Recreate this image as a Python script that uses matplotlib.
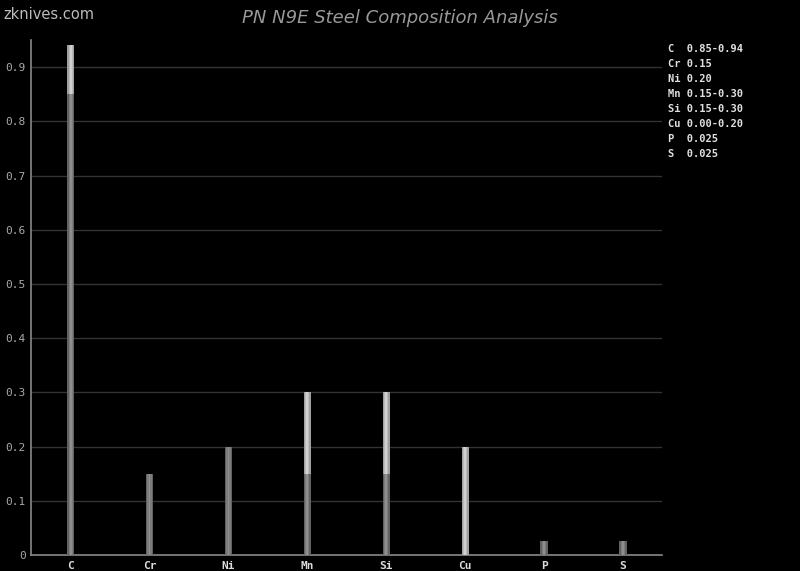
import numpy as np
import matplotlib
matplotlib.use("Agg")
import matplotlib.pyplot as plt

# composition ranges (min, max) in percent
elements = ["C", "Cr", "Ni", "Mn", "Si", "Cu", "P", "S"]
min_vals = [0.85, 0.15, 0.20, 0.15, 0.15, 0.00, 0.025, 0.025]
max_vals = [0.94, 0.15, 0.20, 0.30, 0.30, 0.20, 0.025, 0.025]
legend_lines = ["C  0.85-0.94", "Cr 0.15", "Ni 0.20", "Mn 0.15-0.30",
                "Si 0.15-0.30", "Cu 0.00-0.20", "P  0.025", "S  0.025"]
y_ticks = [0, 0.1, 0.2, 0.3, 0.4, 0.5, 0.6, 0.7, 0.8, 0.9]

mono = "DejaVu Sans Mono"
fig = plt.figure(figsize=(8, 5.71), dpi=100, facecolor="black")
ax = fig.add_axes([0.039, 0.028, 0.789, 0.902], facecolor="black")

x = np.arange(len(elements))
lo = np.array(min_vals)
hi = np.array(max_vals) - lo

# fake cylinder shading with nested bars
w = 0.09
for frac, dark, light in [(1.0, "#626262", "#a0a0a0"),
                          (0.6, "#7c7c7c", "#bababa"),
                          (0.25, "#8e8e8e", "#d0d0d0")]:
    ax.bar(x, lo, width=w * frac, color=dark, zorder=3, linewidth=0)
    ax.bar(x, hi, bottom=lo, width=w * frac, color=light, zorder=3, linewidth=0)

ax.set_xlim(-0.5, 7.5)
ax.set_ylim(0, 0.95)
ax.set_yticks(y_ticks)
ax.set_yticklabels([f"{v:g}" for v in y_ticks])
ax.set_xticks(x)
ax.set_xticklabels(elements)
ax.grid(axis="y", color="#333333", linewidth=1, zorder=0)
ax.tick_params(colors="#dddddd", length=0, labelsize=8, pad=4)
for lab in ax.get_xticklabels():
    lab.set_family(mono)
    lab.set_fontweight("bold")
for lab in ax.get_yticklabels():
    lab.set_family(mono)
ax.tick_params(axis="y", colors="#aaaaaa")
for side in ["top", "right"]:
    ax.spines[side].set_visible(False)
for side in ["left", "bottom"]:
    ax.spines[side].set_color("#888888")
    ax.spines[side].set_linewidth(1.2)

fig.text(0.5, 0.969, "PN N9E Steel Composition Analysis", ha="center", va="center",
         color="#999999", fontsize=13, style="italic")
fig.text(0.004, 0.975, "zknives.com", ha="left", va="center",
         color="#bbbbbb", fontsize=10.5)

for i, line in enumerate(legend_lines):
    fig.text(0.835, 1 - (49 + 15 * i) / 571, line, ha="left", va="center",
             color="#e0e0e0", fontsize=7.5, family=mono, fontweight="bold")

fig.savefig("out.png", dpi=100, facecolor="black")
